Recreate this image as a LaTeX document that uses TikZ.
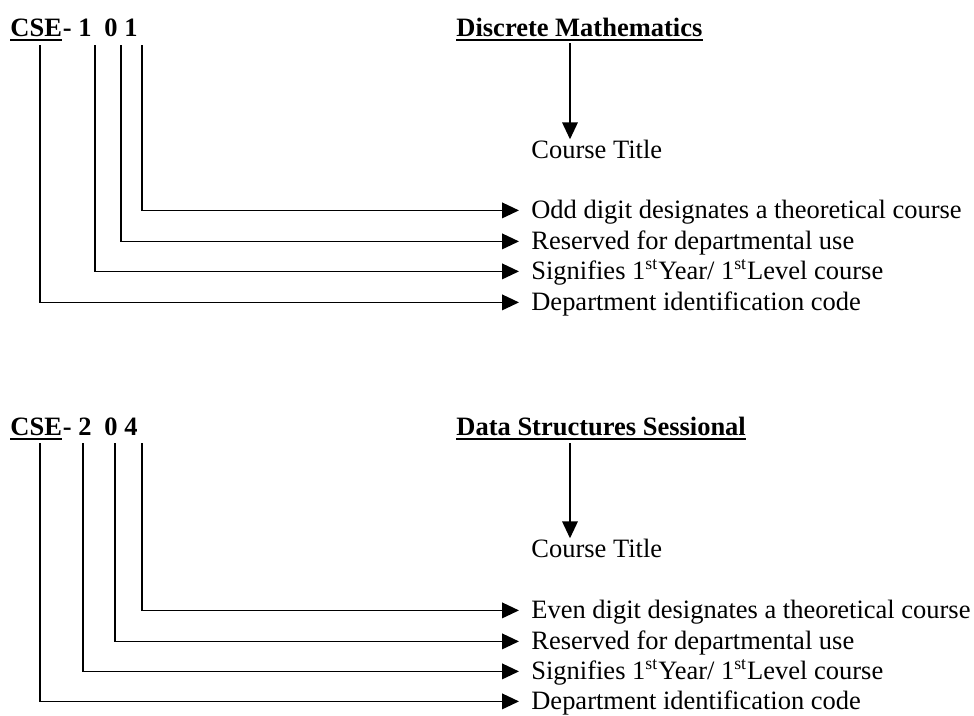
\documentclass[tikz,border=0pt]{standalone}
\usepackage{fontspec}
\setmainfont{Liberation Serif}
\usepackage{tikz}
\usetikzlibrary{positioning,arrows.meta}

\begin{document}
\begin{tikzpicture} [
    x=0.453pt, y=-0.453pt,
    code/.style={font=\fontsize{12}{14}\selectfont\bfseries, inner sep=0pt, anchor=base west},
    desc/.style={font=\fontsize{12}{14}\selectfont, inner xsep=5.4pt, inner ysep=0pt, text height=8.3pt, text depth=1.4pt, anchor=base west},
    uline/.style={line width=1pt},
    arr/.style={line width=0.75pt, -{Triangle[length=7.6pt,width=7pt]}}
]
\useasboundingbox (0,0) rectangle (974,715);

% First course code
\node[code] (cse1) at (10,36) {CSE};
\node[code, base right=0pt of cse1] (dash1) {-};
\node[code] (yr1) at (78,36) {1};
\node[code] (res1) at (104,36) {0};
\node[code] (kind1) at (124,36) {1};
\node[code] (title1) at (456,36) {Discrete Mathematics};

\node[desc] (course1) at (519,158) {Course Title};
\node[desc] (odd1) at (519,218) {Odd digit designates a theoretical course};
\node[desc] (use1) at (519,249) {Reserved for departmental use};
\node[desc] (level1) at (519,279) {Signifies 1\textsuperscript{st}Year/ 1\textsuperscript{st}Level course};
\node[desc] (dept1) at (519,310) {Department identification code};

\coordinate (c11) at (40,45);
\coordinate (c12) at (95,45);
\coordinate (c13) at (121,45);
\coordinate (c14) at (142,45);
\coordinate (t1) at (570,43);

% Second course code
\node[code] (cse2) at (10,435) {CSE};
\node[code, base right=0pt of cse2] (dash2) {-};
\node[code] (yr2) at (78,435) {2};
\node[code] (res2) at (104,435) {0};
\node[code] (kind2) at (124,435) {4};
\node[code] (title2) at (456,435) {Data Structures Sessional};

\node[desc] (course2) at (519,557) {Course Title};
\node[desc] (even2) at (519,618) {Even digit designates a theoretical course};
\node[desc] (use2) at (519,649) {Reserved for departmental use};
\node[desc] (level2) at (519,679) {Signifies 1\textsuperscript{st}Year/ 1\textsuperscript{st}Level course};
\node[desc] (dept2) at (519,709) {Department identification code};

\coordinate (c21) at (40,443);
\coordinate (c22) at (83,443);
\coordinate (c23) at (115,443);
\coordinate (c24) at (142,443);
\coordinate (t2) at (570,443);

% Underlines
\draw[uline] ([yshift=-1.9pt]cse1.base west) -- ([yshift=-1.9pt]cse1.base east);
\draw[uline] ([yshift=-1.9pt]title1.base west) -- ([yshift=-1.9pt]title1.base east);
\draw[uline] ([yshift=-1.9pt]cse2.base west) -- ([yshift=-1.9pt]cse2.base east);
\draw[uline] ([yshift=-1.9pt]title2.base west) -- ([yshift=-1.9pt]title2.base east);

% Connections
\draw[arr] (t1) -- (t1 |- course1.north);
\draw[arr] (c14) |- (odd1.west);
\draw[arr] (c13) |- (use1.west);
\draw[arr] (c12) |- (level1.west);
\draw[arr] (c11) |- (dept1.west);

\draw[arr] (t2) -- (t2 |- course2.north);
\draw[arr] (c24) |- (even2.west);
\draw[arr] (c23) |- (use2.west);
\draw[arr] (c22) |- (level2.west);
\draw[arr] (c21) |- (dept2.west);

\end{tikzpicture}
\end{document}
